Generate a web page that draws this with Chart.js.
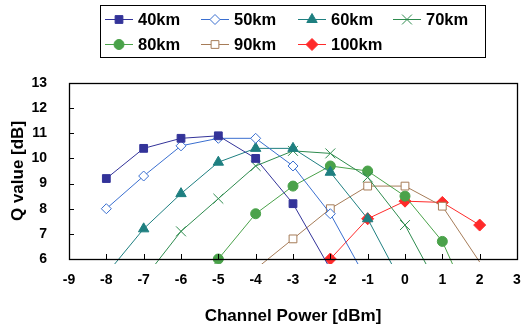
<!DOCTYPE html>
<html>
<head>
<meta charset="utf-8">
<script src="https://cdn.jsdelivr.net/npm/chart.js@4"></script>
<style>
  html, body { margin: 0; padding: 0; background: #fff; }
  #wrap { width: 525px; height: 325px; }
</style>
</head>
<body>
<div id="wrap"><canvas id="qChart" width="525" height="325"></canvas></div>
<script>
// channel power (dBm) at which each distance was measured
const power = [-8, -7, -6, -5, -4, -3, -2, -1, 0, 1, 2];

// Q value (dB) per fibre length; values under 6 fall off the plot
const q40km = [9.2, 10.4, 10.8, 10.9, 10.0, 8.2, 5.6, null, null, null, null];
const q50km = [8.0, 9.3, 10.5, 10.8, 10.8, 9.7, 7.8, 5.1, null, null, null];
const q60km = [5.4, 7.2, 8.6, 9.85, 10.4, 10.4, 9.45, 7.6, 4.8, null, null];
const q70km = [null, 5.2, 7.1, 8.4, 9.7, 10.3, 10.2, 9.25, 7.35, 4.6, null];
const q80km = [null, null, 4.0, 6.0, 7.8, 8.9, 9.7, 9.5, 8.5, 6.7, 3.4];
const q90km = [null, null, null, null, 5.6, 6.8, 8.0, 8.9, 8.9, 8.1, 5.88];
const q100km = [null, null, null, null, null, null, 6.0, 7.6, 8.3, 8.25, 7.35];

const xTicks = { min: -9, max: 3, step: 1 };
const yTicks = { min: 6, max: 13, step: 1 };

function toPoints(values) {
  return power.map((p, i) => ({ x: p, y: values[i] }));
}

// hide markers that sit below the axis (Excel does not draw them)
function radiusIfVisible(r) {
  return (ctx) => (ctx.raw && ctx.raw.y !== null && ctx.raw.y < yTicks.min ? 0 : r);
}

const series = [
  { label: "40km", data: q40km, color: "#333399", fill: "#333399", style: "rect", r: 5.5 },
  { label: "50km", data: q50km, color: "#3A6FD0", fill: "#ffffff", style: "rectRot", r: 5 },
  { label: "60km", data: q60km, color: "#1E7F80", fill: "#1E7F80", style: "triangle", r: 6 },
  { label: "70km", data: q70km, color: "#2E8B4E", fill: "#2E8B4E", style: "crossRot", r: 7 },
  { label: "80km", data: q80km, color: "#4AA24A", fill: "#4AA24A", style: "circle", r: 5 },
  { label: "90km", data: q90km, color: "#A67C58", fill: "#ffffff", style: "rect", r: 5.5 },
  { label: "100km", data: q100km, color: "#FF2A2A", fill: "#FF2A2A", style: "rectRot", r: 6 },
];

const boldFont = (size) => ({ family: "Arial, 'Liberation Sans', sans-serif", size: size, weight: "bold" });

// draw a legend marker the same way Chart.js draws the points
function drawMarker(ctx, s, x, y) {
  if (Chart.helpers && Chart.helpers.drawPoint) {
    ctx.save();
    ctx.fillStyle = s.fill;
    ctx.strokeStyle = s.color;
    ctx.lineWidth = 1;
    Chart.helpers.drawPoint(ctx, { pointStyle: s.style, radius: s.r, rotation: 0, borderWidth: 1 }, x, y);
    ctx.restore();
  }
}

// boxed two-row legend with line+marker samples, like the Excel original
const boxLegend = {
  id: "boxLegend",
  afterDraw(chart) {
    const ctx = chart.ctx;
    ctx.save();
    ctx.strokeStyle = "#000";
    ctx.lineWidth = 1;
    ctx.strokeRect(100.5, 5.5, 385, 52);
    const cols = [105, 201, 298, 393];
    const rows = [19.5, 44.5];
    ctx.font = "bold 16.5px Arial, 'Liberation Sans', sans-serif";
    ctx.textBaseline = "middle";
    series.forEach((s, i) => {
      const x = cols[i % 4];
      const y = rows[Math.floor(i / 4)];
      ctx.strokeStyle = s.color;
      ctx.lineWidth = 1;
      ctx.beginPath();
      ctx.moveTo(x, y);
      ctx.lineTo(x + 28, y);
      ctx.stroke();
      drawMarker(ctx, s, x + 14, y);
      ctx.fillStyle = "#000";
      ctx.fillText(s.label, x + 33, y + 1);
    });
    ctx.restore();
  },
};

// plot frame with inward tick marks
const frame = {
  id: "frame",
  afterDraw(chart) {
    const { ctx, chartArea: a, scales } = chart;
    ctx.save();
    ctx.strokeStyle = "#000";
    ctx.lineWidth = 1.3;
    ctx.strokeRect(Math.round(a.left) + 0.5, Math.round(a.top) + 0.5, Math.round(a.right - a.left), Math.round(a.bottom - a.top));
    ctx.lineWidth = 1;
    for (let v = xTicks.min + 1; v < xTicks.max; v += xTicks.step) {
      const px = Math.round(scales.x.getPixelForValue(v)) + 0.5;
      ctx.beginPath();
      ctx.moveTo(px, a.bottom);
      ctx.lineTo(px, a.bottom - 5);
      ctx.stroke();
    }
    for (let v = yTicks.min + 1; v < yTicks.max; v += yTicks.step) {
      const py = Math.round(scales.y.getPixelForValue(v)) + 0.5;
      ctx.beginPath();
      ctx.moveTo(a.left, py);
      ctx.lineTo(a.left + 5, py);
      ctx.stroke();
    }
    ctx.restore();
  },
};

// invisible tick marks push the x labels down without widening the side padding
const hiddenTicks = { display: true, drawOnChartArea: false, drawTicks: true, tickLength: 10, color: "rgba(0,0,0,0)" };

const ctx = document.getElementById("qChart").getContext("2d");
const qChart = new Chart(ctx, {
  type: "line",
  data: {
    datasets: series.map((s) => ({
      label: s.label,
      data: toPoints(s.data),
      borderColor: s.color,
      backgroundColor: s.fill,
      borderWidth: 1,
      pointStyle: s.style,
      pointRadius: radiusIfVisible(s.r),
      pointHoverRadius: radiusIfVisible(s.r),
      pointBorderColor: s.color,
      pointBackgroundColor: s.fill,
      pointBorderWidth: 1,
      tension: 0,
      clip: { left: 0, top: 0, right: 0, bottom: 5 },
    })),
  },
  options: {
    responsive: false,
    animation: false,
    layout: { padding: { top: 83, right: 6, left: 0, bottom: 0 } },
    plugins: {
      legend: { display: false },
      tooltip: { enabled: false },
    },
    scales: {
      x: {
        type: "linear",
        min: xTicks.min,
        max: xTicks.max,
        grid: hiddenTicks,
        border: { display: false },
        ticks: { stepSize: xTicks.step, color: "#000", font: boldFont(14), padding: 3, maxRotation: 0 },
        title: { display: true, text: "Channel Power [dBm]", color: "#000", font: { ...boldFont(17), lineHeight: 1 }, padding: 0 },
        afterFit: (scale) => { scale.height = 66; },
      },
      y: {
        min: yTicks.min,
        max: yTicks.max,
        grid: { display: false },
        border: { display: false },
        ticks: { stepSize: yTicks.step, color: "#000", font: boldFont(14), padding: 14 },
        title: { display: true, text: "Q value [dB]", color: "#000", font: { ...boldFont(17), lineHeight: 1 }, padding: { top: 10, bottom: 0 } },
        afterFit: (scale) => { scale.width = 69; },
      },
    },
  },
  plugins: [frame, boxLegend],
});
</script>
</body>
</html>
